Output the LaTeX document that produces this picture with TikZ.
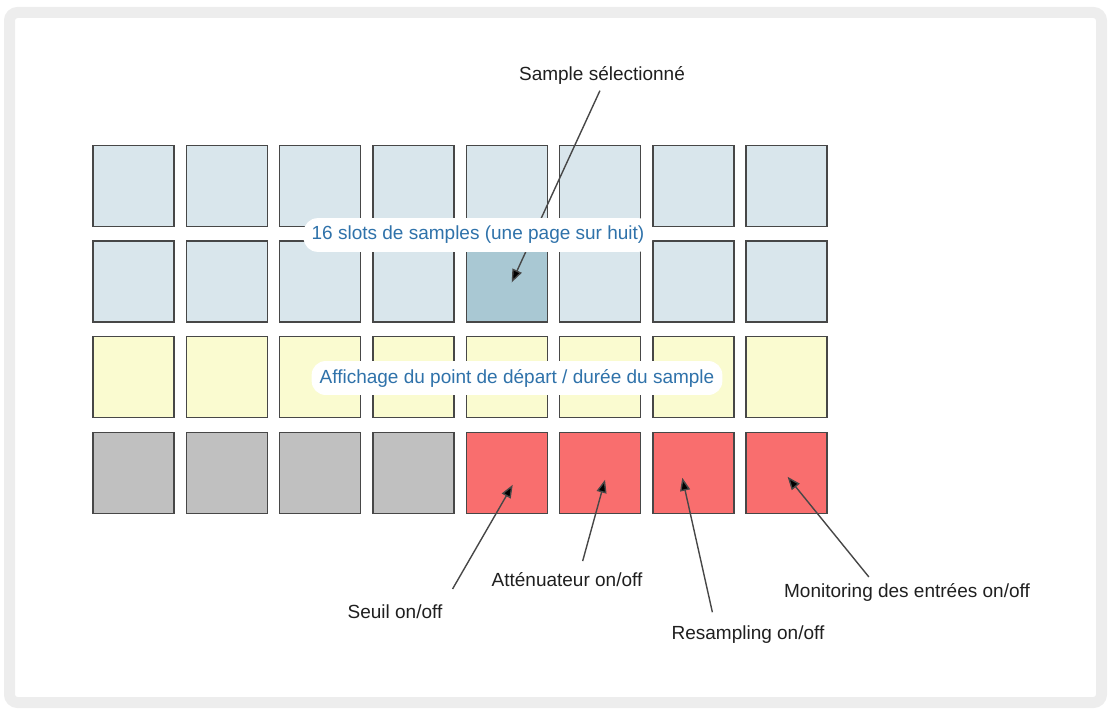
\documentclass[tikz,border=0pt]{standalone}
\usepackage{fontspec}
\setmainfont{Liberation Sans}
\usetikzlibrary{arrows.meta,positioning}

\definecolor{padblue}{HTML}{D9E6EC}
\definecolor{padsel}{HTML}{A9C8D3}
\definecolor{padyellow}{HTML}{FAFBD0}
\definecolor{padgray}{HTML}{C0C0C0}
\definecolor{padred}{HTML}{F96E6E}
\definecolor{labelblue}{HTML}{2F72AA}
\definecolor{framegray}{HTML}{EDEDED}

\begin{document}
\begin{tikzpicture}[x=1pt,y=-1pt,
    pad/.style={draw=black!72, line width=1.4pt, minimum size=81pt, inner sep=0pt},
    callout/.style={font=\fontsize{19}{23}\selectfont, text=black!88, inner sep=2pt},
    bluelabel/.style={font=\fontsize{19}{23}\selectfont, text=labelblue, fill=white,
      rounded corners=14pt, inner xsep=8pt, inner ysep=8pt},
    pointer/.style={draw=black!72, line width=1.4pt,
      -{Triangle[length=13pt,width=10pt,fill=black]}}]
  \useasboundingbox (0,0) rectangle (1109,709);

  % frame
  \draw[framegray, line width=11pt, rounded corners=8pt] (9.5,12.5) rectangle (1101.5,702.5);

  % the pads, row by row
  \foreach \c/\col in {0/padblue,1/padblue,2/padblue,3/padblue,4/padblue,5/padblue,6/padblue,7/padblue}
    \node[pad, fill=\col] (pad-0-\c) at (133.5+93.3*\c, 185.7) {};
  \foreach \c/\col in {0/padblue,1/padblue,2/padblue,3/padblue,4/padsel,5/padblue,6/padblue,7/padblue}
    \node[pad, fill=\col] (pad-1-\c) at (133.5+93.3*\c, 281.4) {};
  \foreach \c in {0,...,7}
    \node[pad, fill=padyellow] (pad-2-\c) at (133.5+93.3*\c, 377.1) {};
  \foreach \c/\col in {0/padgray,1/padgray,2/padgray,3/padgray,4/padred,5/padred,6/padred,7/padred}
    \node[pad, fill=\col] (pad-3-\c) at (133.5+93.3*\c, 472.8) {};

  % labels
  \node[callout] (sel) at (602,75) {Sample sélectionné};
  \node[callout] (seuil) at (395,612) {Seuil on/off};
  \node[callout] (att) at (567,580) {Atténuateur on/off};
  \node[callout] (res) at (748,635) {Resampling on/off};
  \node[callout] (mon) at (907,592) {Monitoring des entrées on/off};

  % pointers
  \draw[pointer, shorten <=5pt] (sel.south) -- ([shift={(5,1)}]pad-1-4.center);
  \draw[pointer, shorten <=16pt] (seuil.north east) -- ([shift={(6,12)}]pad-3-4.center);
  \draw[pointer, shorten <=10pt] ([xshift=13pt]att.north) -- ([shift={(5,7)}]pad-3-5.center);
  \draw[pointer, shorten <=12pt] ([xshift=-33pt]res.north) -- ([shift={(-11,5)}]pad-3-6.center);
  \draw[pointer, shorten <=5pt] ([xshift=-35pt]mon.north) -- ([shift={(1,4)}]pad-3-7.center);

  % overlays on the grid
  \node[bluelabel] (slots) at (478,235) {16 slots de samples (une page sur huit)};
  \node[bluelabel] (disp) at (517,378) {Affichage du point de départ / durée du sample};
\end{tikzpicture}
\end{document}
